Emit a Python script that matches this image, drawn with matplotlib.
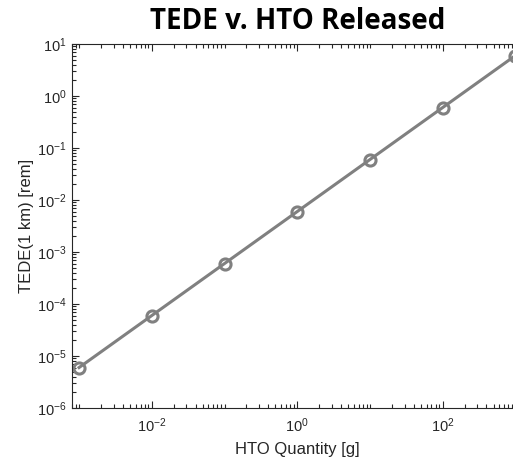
import numpy as np
import matplotlib
matplotlib.use("Agg")
import matplotlib.pyplot as plt
from matplotlib.ticker import FixedLocator, NullFormatter

# data
hto_quantity = [1e-3, 1e-2, 1e-1, 1e0, 1e1, 1e2, 1e3]
tede = [6e-6, 6e-5, 6e-4, 6e-3, 6e-2, 6e-1, 6e0]
x_major = [1e-2, 1e0, 1e2]

AX_COLOR = '#262626'
LINE_COLOR = '#808080'
X_LIM = (8e-4, 1.25e3)

plt.rcParams['font.family'] = ['Liberation Sans', 'DejaVu Sans']

fig = plt.figure(figsize=(5.13, 4.57), dpi=100)
# the right edge of the axes runs past the figure, as in the reference
ax = fig.add_axes([0.1404, 0.1072, 0.878, 0.7965])

ax.plot(hto_quantity, tede, color=LINE_COLOR, linewidth=2.2,
        marker='o', markersize=8, markerfacecolor='none',
        markeredgecolor=LINE_COLOR, markeredgewidth=2.2)

ax.set_xscale('log')
ax.set_yscale('log')
ax.set_xlim(*X_LIM)
ax.set_ylim(1e-6, 1e1)

ax.xaxis.set_major_locator(FixedLocator(x_major))
minor_x = [k * 10.0 ** e for e in range(-4, 4) for k in range(1, 10)]
minor_x = [v for v in minor_x if v not in x_major and X_LIM[0] <= v <= X_LIM[1]]
ax.xaxis.set_minor_locator(FixedLocator(minor_x))
ax.xaxis.set_minor_formatter(NullFormatter())
ax.yaxis.set_major_locator(FixedLocator([10.0 ** e for e in range(-6, 2)]))
minor_y = [k * 10.0 ** e for e in range(-6, 1) for k in range(2, 10)]
ax.yaxis.set_minor_locator(FixedLocator(minor_y))
ax.yaxis.set_minor_formatter(NullFormatter())

ax.tick_params(which='both', direction='in', top=True, right=True,
               colors=AX_COLOR, labelsize=10.5, width=0.8)
ax.tick_params(which='major', length=5)
ax.tick_params(axis='y', which='major', pad=4)
ax.tick_params(axis='x', which='major', pad=6)
ax.tick_params(which='minor', length=2.8)
for s in ax.spines.values():
    s.set_color(AX_COLOR)
    s.set_linewidth(0.8)

ax.set_xlabel('HTO Quantity [g]', fontsize=12, color=AX_COLOR, labelpad=5)
ax.set_ylabel('TEDE(1 km) [rem]', fontsize=12, color=AX_COLOR, labelpad=2)
ax.set_title('TEDE v. HTO Released', fontsize=20, fontweight='bold',
             family=['Open Sans', 'DejaVu Sans'], pad=11)

fig.savefig('out.png', dpi=100)
